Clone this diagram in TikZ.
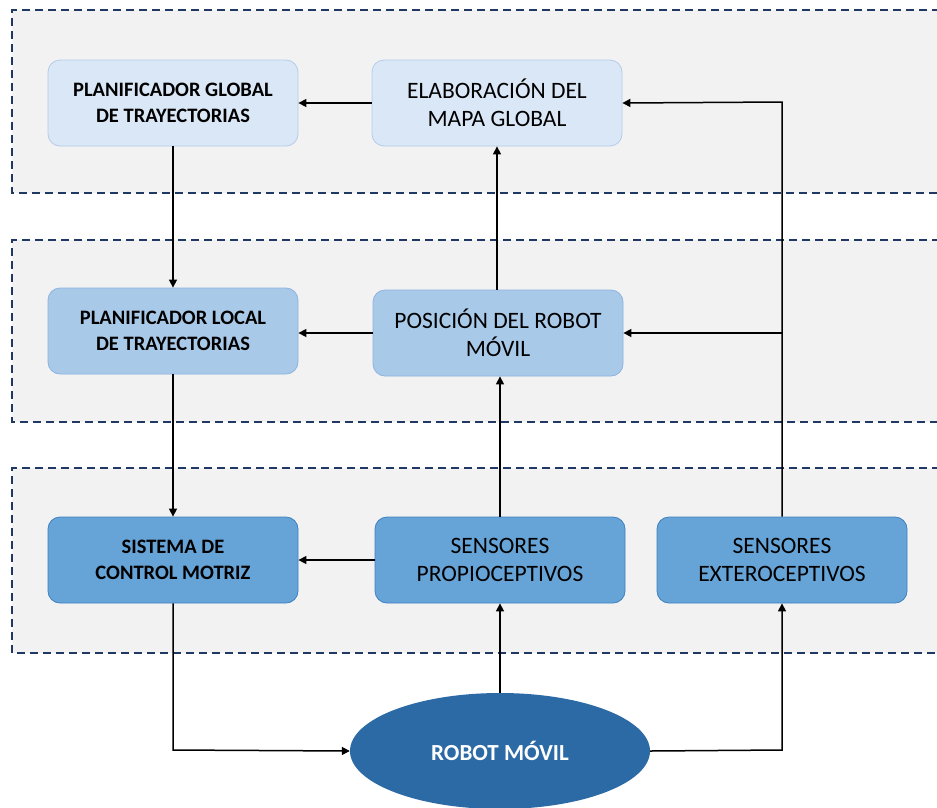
\documentclass[tikz,border=0pt]{standalone}
\usepackage{fontspec}
\setmainfont{Carlito}
\usetikzlibrary{shapes.geometric,arrows.meta}
\definecolor{panelfill}{HTML}{F2F2F2}
\definecolor{paneledge}{HTML}{1F3864}
\definecolor{lightfill}{HTML}{DAE7F6}
\definecolor{lightedge}{HTML}{B4CCEA}
\definecolor{midfill}{HTML}{A9C9E8}
\definecolor{midedge}{HTML}{8DB3E0}
\definecolor{darkfill}{HTML}{66A3D6}
\definecolor{darkedge}{HTML}{3E80C2}
\definecolor{robotfill}{HTML}{2C6AA6}
\tikzset{
  x=1pt, y=-1pt,
  panelline/.style={draw=paneledge, line width=1.6pt, dash pattern=on 8pt off 5pt},
  blockbox/.style={rounded corners=12pt, minimum width=250pt, minimum height=86pt,
    align=center, inner sep=0pt, font=\fontsize{23.5}{28}\selectfont},
  boldtext/.style={font=\fontsize{20.5}{26}\selectfont\bfseries},
  toprow/.style={blockbox, fill=lightfill, draw=lightedge, line width=0.8pt},
  midrow/.style={blockbox, fill=midfill, draw=midedge, line width=0.8pt},
  lowrow/.style={blockbox, fill=darkfill, draw=darkedge, line width=0.8pt},
  flow/.style={draw=black, line width=1.5pt, -{Triangle[length=8pt,width=8pt]}}
}
\begin{document}
\begin{tikzpicture}
\useasboundingbox (0,0) rectangle (937,807);
% background bands with dashed borders (open on the right)
\foreach \ya/\yb in {10/193, 240/422, 468/653}{
  \fill[panelfill] (12,\ya) rectangle (937,\yb);
  \draw[panelline] (940,\ya) -- (12,\ya) -- (12,\yb) -- (940,\yb);
}
% blocks
\node[toprow, boldtext] (pgt) at (173,103) {PLANIFICADOR GLOBAL\\DE TRAYECTORIAS};
\node[toprow] (emg) at (497,103) {ELABORACIÓN DEL\\MAPA GLOBAL};
\node[midrow, boldtext] (plt) at (173,331) {PLANIFICADOR LOCAL\\DE TRAYECTORIAS};
\node[midrow] (pos) at (498,333) {POSICIÓN DEL ROBOT\\MÓVIL};
\node[lowrow, boldtext] (scm) at (173,560) {SISTEMA DE\\CONTROL MOTRIZ};
\node[lowrow] (sp) at (500,560) {SENSORES\\PROPIOCEPTIVOS};
\node[lowrow] (se) at (782,560) {SENSORES\\EXTEROCEPTIVOS};
\node[ellipse, fill=robotfill, minimum width=300pt, minimum height=116pt, inner sep=0pt,
  text=white, font=\fontsize{23}{28}\selectfont\bfseries] (robot) at (500,751) {ROBOT MÓVIL};
% junction points
\coordinate (jtop) at (782,102);
\coordinate (jmid) at (782,333);
\coordinate (jscm) at (173,750);
\coordinate (jse) at (782,750);
% connectors
\draw[flow] (emg.west) -- (emg.west -| pgt.east);
\draw[flow] (pgt.south) -- (plt.north);
\draw[flow] (pos.north -| emg.south) -- (emg.south);
\draw[flow] (pos.west) -- (pos.west -| plt.east);
\draw[flow] (plt.south) -- (scm.north);
\draw[flow] (sp.north) -- (pos.south -| sp.north);
\draw[flow] (sp.west) -- (scm.east);
\draw[flow] (se.north) -- (jtop) -- (emg.east);
\draw[flow] (jmid) -- (pos.east);
\draw[flow] (scm.south) -- (jscm) -- (robot.west);
\draw[flow] (robot.north) -- (sp.south);
\draw[flow] (robot.east) -- (jse) -- (se.south);
\end{tikzpicture}
\end{document}
